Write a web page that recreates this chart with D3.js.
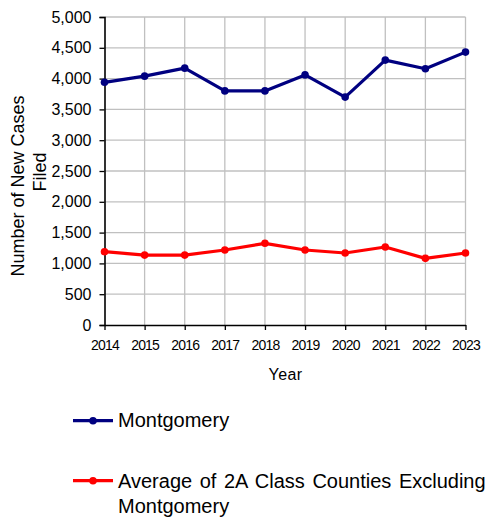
<!DOCTYPE html>
<html>
<head>
<meta charset="utf-8">
<script src="https://cdn.jsdelivr.net/npm/d3@7"></script>
<style>
  html, body { margin: 0; padding: 0; background: #fff; }
  svg { display: block; font-family: "Liberation Sans", Arial, sans-serif; }
</style>
</head>
<body>
<svg id="chart" width="490" height="517"></svg>
<script>
const years = ["2014","2015","2016","2017","2018","2019","2020","2021","2022","2023"];
const montgomery = [3940, 4040, 4170, 3800, 3800, 4060, 3700, 4300, 4160, 4430];
const average2A = [1190, 1135, 1135, 1218, 1326, 1218, 1169, 1266, 1082, 1169];
const yTicks = [0, 500, 1000, 1500, 2000, 2500, 3000, 3500, 4000, 4500, 5000];
const seriesNames = ["Montgomery", "Average of 2A Class Counties Excluding", "Montgomery"];
const seriesColors = ["#000080", "#ff0000"];

const svg = d3.select("#chart");
const x = d3.scalePoint().domain(years).range([104.5, 465.5]);
const y = d3.scaleLinear().domain([0, 5000]).range([325, 17]);

// gridlines
const grid = svg.append("g");
grid.selectAll("line.h").data(yTicks.filter(d => d > 0)).join("line")
  .attr("x1", x.range()[0]).attr("x2", x.range()[1])
  .attr("y1", d => y(d)).attr("y2", d => y(d))
  .attr("stroke", "#c0c0c0").attr("stroke-width", 1.3);
grid.selectAll("line.v").data(years.slice(1)).join("line")
  .attr("x1", d => x(d)).attr("x2", d => x(d))
  .attr("y1", y(0)).attr("y2", y(5000))
  .attr("stroke", "#c0c0c0").attr("stroke-width", 1.3);

// axes
const fmt = d3.format(",");
const yAxis = svg.append("g").attr("transform", `translate(${x.range()[0]},0)`)
  .call(d3.axisLeft(y).tickValues(yTicks).tickFormat(fmt).tickSize(5).tickPadding(8));
yAxis.select(".domain").attr("stroke", "#000").attr("stroke-width", 1.6);
yAxis.selectAll(".tick line").attr("stroke", "#000").attr("stroke-width", 1.3);
yAxis.selectAll(".tick text").attr("font-size", 16).attr("fill", "#000")
  .attr("font-family", "Liberation Sans, Arial, sans-serif");

const xAxis = svg.append("g").attr("transform", `translate(0,${y(0)})`)
  .call(d3.axisBottom(x).tickSize(5).tickSizeOuter(0).tickPadding(10));
xAxis.select(".domain").attr("stroke", "#000").attr("stroke-width", 1.6);
xAxis.selectAll(".tick line").attr("stroke", "#000").attr("stroke-width", 1.3);
xAxis.selectAll(".tick text").attr("font-size", 14).attr("fill", "#000")
  .attr("letter-spacing", "-0.8px")
  .attr("font-family", "Liberation Sans, Arial, sans-serif");

// axis titles
svg.append("text").attr("x", 285.5).attr("y", 380).attr("text-anchor", "middle")
  .attr("font-size", 16).attr("letter-spacing", "0.4px").text("Year");
svg.append("text").attr("transform", "translate(24,186) rotate(-90)")
  .attr("text-anchor", "middle").attr("font-size", 18).text("Number of New Cases");
svg.append("text").attr("transform", "translate(46,172) rotate(-90)")
  .attr("text-anchor", "middle").attr("font-size", 18).text("Filed");

// series
const series = [montgomery, average2A];
const line = d3.line().x((d, i) => x(years[i])).y(d => y(d));
series.forEach((vals, si) => {
  const g = svg.append("g");
  g.append("path").datum(vals).attr("d", line).attr("fill", "none")
    .attr("stroke", seriesColors[si]).attr("stroke-width", 3.2).attr("stroke-linejoin", "round");
  g.selectAll("circle").data(vals).join("circle")
    .attr("cx", (d, i) => x(years[i])).attr("cy", d => y(d)).attr("r", 3.8)
    .attr("fill", seriesColors[si]);
});

// legend
const legY = [420.7, 480.7];
legY.forEach((ly, i) => {
  svg.append("line").attr("x1", 73).attr("x2", 113).attr("y1", ly).attr("y2", ly)
    .attr("stroke", seriesColors[i]).attr("stroke-width", 3.2);
  svg.append("circle").attr("cx", 93).attr("cy", ly).attr("r", 3.8).attr("fill", seriesColors[i]);
});
svg.append("text").attr("x", 118).attr("y", 427).attr("font-size", 20).text(seriesNames[0]);
svg.append("text").attr("x", 118).attr("y", 487.5).attr("font-size", 20)
  .attr("word-spacing", "2px").text(seriesNames[1]);
svg.append("text").attr("x", 118).attr("y", 512.5).attr("font-size", 20).text(seriesNames[2]);
</script>
</body>
</html>
